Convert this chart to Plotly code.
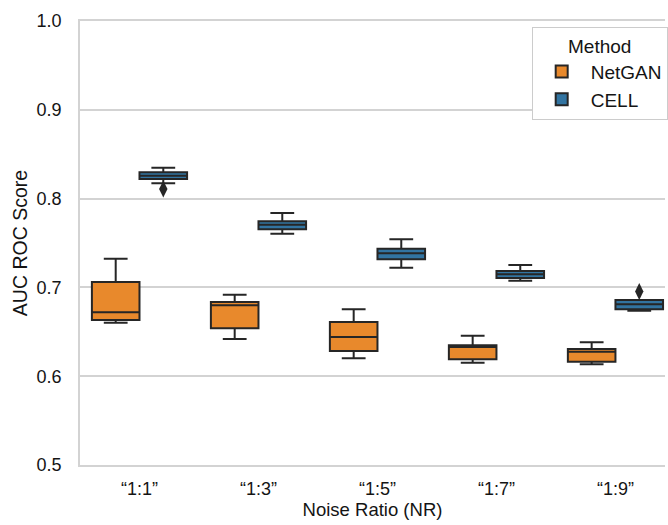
import plotly.graph_objects as go

# ---- data ----
categories = ["“1:1”", "“1:3”", "“1:5”", "“1:7”", "“1:9”"]

netgan_lower = [0.6602, 0.6419, 0.6202, 0.6152, 0.6134]
netgan_q1 = [0.6633, 0.6539, 0.6284, 0.6190, 0.6163]
netgan_median = [0.6720, 0.6798, 0.6441, 0.6330, 0.6276]
netgan_q3 = [0.7061, 0.6836, 0.6610, 0.6348, 0.6306]
netgan_upper = [0.7323, 0.6918, 0.6753, 0.6456, 0.6382]

cell_lower = [0.8172, 0.7605, 0.7222, 0.7075, 0.6737]
cell_q1 = [0.8221, 0.7654, 0.7316, 0.7106, 0.6753]
cell_median = [0.8258, 0.7706, 0.7384, 0.7148, 0.6810]
cell_q3 = [0.8296, 0.7744, 0.7436, 0.7185, 0.6858]
cell_upper = [0.8348, 0.7838, 0.7542, 0.7252, 0.6858]

cell_outlier_x = ["“1:1”", "“1:9”"]
cell_outlier_y = [0.8108, 0.6954]

y_ticks = [0.5, 0.6, 0.7, 0.8, 0.9, 1.0]

# ---- styles ----
ORANGE = "#e8892c"
BLUE = "#3274a1"
EDGE = "#262626"
GRID = "#d3d3d3"
FONT = "Liberation Sans, Arial, Helvetica, sans-serif"
TEXT = "#141414"

fig = go.Figure()

fig.add_trace(go.Box(
    name="NetGAN", x=categories,
    q1=netgan_q1, median=netgan_median, q3=netgan_q3,
    lowerfence=netgan_lower, upperfence=netgan_upper,
    fillcolor=ORANGE, line=dict(color=EDGE, width=2),
    whiskerwidth=0.5, boxpoints=False, offsetgroup="NetGAN",
    hoverinfo="skip",
))
fig.add_trace(go.Box(
    name="CELL", x=categories,
    q1=cell_q1, median=cell_median, q3=cell_q3,
    lowerfence=cell_lower, upperfence=cell_upper,
    fillcolor=BLUE, line=dict(color=EDGE, width=2),
    whiskerwidth=0.5, boxpoints=False, offsetgroup="CELL",
    hoverinfo="skip",
))

# outlier markers (grouped like the boxes)
fig.add_trace(go.Scatter(
    x=[categories[0]], y=[None], mode="markers", offsetgroup="NetGAN",
    showlegend=False, hoverinfo="skip",
    marker=dict(symbol="diamond-tall", size=12, color=EDGE),
))
fig.add_trace(go.Scatter(
    x=cell_outlier_x, y=cell_outlier_y, mode="markers", offsetgroup="CELL",
    showlegend=False, hoverinfo="skip",
    marker=dict(symbol="diamond-tall", size=12, color=EDGE),
))

W, H = 668, 525
ML, MR, MT, MB = 80, 0, 21, 60
pw, ph = W - ML - MR, H - MT - MB

fig.update_layout(
    width=W, height=H,
    margin=dict(l=ML, r=MR, t=MT, b=MB, pad=0),
    paper_bgcolor="white", plot_bgcolor="white",
    font=dict(family=FONT, size=18, color=TEXT),
    boxmode="group", boxgap=0.2, boxgroupgap=0.0,
    scattermode="group", scattergap=0.2,
    legend=dict(
        title=dict(text="Method", side="top center", font=dict(size=19)),
        x=(534 - ML) / pw, xanchor="left",
        y=1 - (27 - MT) / ph, yanchor="top",
        bgcolor="white", bordercolor="#cccccc", borderwidth=1,
        font=dict(size=19), itemwidth=48,
    ),
    xaxis=dict(
        type="category", categoryorder="array", categoryarray=categories,
        range=[-0.5, -0.5 + pw / 119.6],
        showgrid=False, zeroline=False,
        showline=True, mirror=True, linecolor=GRID, linewidth=1.5,
        ticks="", tickfont=dict(size=18), ticklabelstandoff=7,
        title=dict(text="Noise Ratio (NR)", font=dict(size=18.5), standoff=0),
    ),
    yaxis=dict(
        range=[0.5, 1.0], tickvals=y_ticks, tickformat=".1f",
        showgrid=True, gridcolor=GRID, gridwidth=1.5,
        zeroline=False, showline=True, linecolor=GRID, linewidth=1.5,
        ticks="", tickfont=dict(size=18), ticklabelstandoff=13,
        title=dict(text="AUC ROC Score", font=dict(size=19.5), standoff=4),
    ),
)

fig.write_html(
    "out.html",
    config={"displayModeBar": False},
    post_script="document.body.style.margin='0';",
)
